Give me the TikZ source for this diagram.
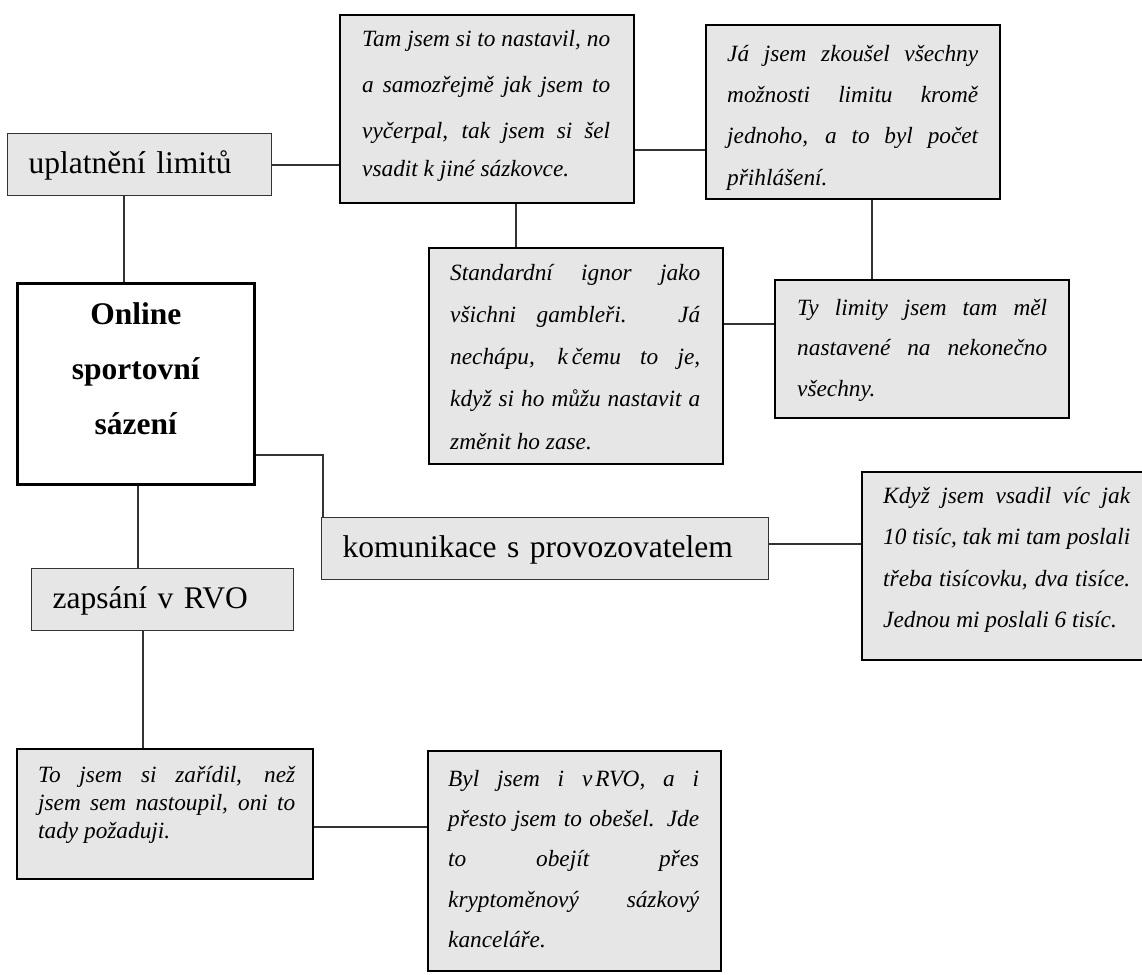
\documentclass[tikz,border=0pt]{standalone}
\usepackage{fontspec}
\setmainfont{Liberation Serif}
\definecolor{boxgray}{HTML}{E6E6E6}
\definecolor{linegray}{HTML}{333333}
% #1 W, #2 H, #3 left pad, #4 top space, #5 text width, #6 baselineskip, #7 lines
\newcommand\qt[7]{\parbox[c][#2][t]{#1}{\vspace*{#4}\hspace*{#3}\parbox[t]{#5}{\fontsize{23.3}{#6}\selectfont\itshape #7}}}
\newcommand\jl[1]{\makebox[\linewidth][s]{\rule{0pt}{20pt}#1}\par}
\newcommand\el[1]{\makebox[\linewidth][l]{\rule{0pt}{20pt}#1}\par}
\begin{document}
\begin{tikzpicture}[x=1pt,y=-1pt,
  labelbox/.style={draw=black!80, line width=1.4pt, fill=boxgray, anchor=north west,
    inner xsep=21pt, inner ysep=0pt, minimum height=62pt, align=left,
    font=\fontsize{31.5}{36}\selectfont, text height=24pt, text depth=6pt},
  quotebox/.style={draw=black, line width=2.4pt, fill=boxgray, anchor=north west, inner sep=0pt},
  topicbox/.style={draw=black, line width=2.6pt, fill=white, anchor=north west, inner sep=0pt},
  conn/.style={draw=linegray, line width=1.2pt}]

\useasboundingbox (0,0) rectangle (1142,974);

% label boxes
\node[labelbox, text width=222pt] (uplat) at (7,133) {uplatnění limitů};
\node[labelbox, text width=220pt] (zap) at (31,568) {zapsání v RVO};
\node[labelbox, text width=405pt] (kom) at (321,517) {komunikace s provozovatelem};

% central topic
\node[topicbox] (online) at (16,282) {\parbox[c][201pt][t]{237pt}{\vspace*{16pt}\centering
  \fontsize{31.5}{55}\selectfont\bfseries \rule{0pt}{25pt}Online\\sportovní\\sázení\par}};

% quote boxes
\node[quotebox] (tam) at (339,14) {\qt{294pt}{188pt}{22pt}{11pt}{248pt}{46pt}{%
  \jl{Tam jsem si to nastavil, no}
  \jl{a samozřejmě jak jsem to}
  \jl{vyčerpal, tak jsem si šel}
  \vspace{-8pt}\el{vsadit k jiné sázkovce.}}};

\node[quotebox] (ja) at (705,24) {\qt{294pt}{174pt}{21pt}{16pt}{251pt}{41.3pt}{%
  \jl{Já jsem zkoušel všechny}
  \jl{možnosti limitu kromě}
  \jl{jednoho, a to byl počet}
  \el{přihlášení.}}};

\node[quotebox] (std) at (428,247) {\qt{294pt}{216pt}{21pt}{12pt}{250pt}{42.2pt}{%
  \jl{Standardní ignor jako}
  \jl{všichni gambleři. Já}
  \jl{nechápu, k\kern4pt čemu to je,}
  \jl{když si ho můžu nastavit a}
  \el{změnit ho zase.}}};

\node[quotebox] (ty) at (774,279) {\qt{294pt}{138pt}{22pt}{15pt}{250pt}{40.5pt}{%
  \jl{Ty limity jsem tam měl}
  \jl{nastavené na nekonečno}
  \el{všechny.}}};

\node[quotebox] (kdyz) at (861,471) {\qt{294pt}{188pt}{21pt}{11pt}{247pt}{41.5pt}{%
  \jl{Když jsem vsadil víc jak}
  \jl{10 tisíc, tak mi tam poslali}
  \jl{třeba tisícovku, dva tisíce.}
  \el{Jednou mi poslali 6 tisíc.}}};

\node[quotebox] (to) at (16,748) {\qt{296pt}{130pt}{21pt}{13pt}{257pt}{28pt}{%
  \jl{To jsem si zařídil, než}
  \jl{jsem sem nastoupil, oni to}
  \el{tady požaduji.}}};

\node[quotebox] (byl) at (427,750) {\qt{293pt}{220pt}{20pt}{15pt}{251pt}{40.3pt}{%
  \jl{Byl jsem i v\kern3pt RVO, a i}
  \jl{přesto jsem to obešel. Jde}
  \jl{to obejít přes}
  \jl{kryptoměnový sázkový}
  \el{kanceláře.}}};

% connectors
\draw[conn] ([yshift=-32pt]uplat.north east) -- ([yshift=-151pt]tam.north west);
\draw[conn] ([yshift=-136pt]tam.north east) -- ([yshift=-126pt]ja.north west);
\draw[conn] ([xshift=177pt]tam.south west) -- ([xshift=88pt]std.north west);
\draw[conn] ([xshift=167pt]ja.south west) -- ([xshift=98pt]ty.north west);
\draw[conn] ([yshift=-77pt]std.north east) -- ([yshift=-45pt]ty.north west);
\draw[conn] ([xshift=117pt]uplat.south west) -- ([xshift=108pt]online.north west);
\draw[conn] ([yshift=-173pt]online.north east) -| ([xshift=2pt]kom.north west);
\draw[conn] ([xshift=122pt]online.south west) -- ([xshift=107pt]zap.north west);
\draw[conn] ([yshift=-27pt]kom.north east) -- ([yshift=-73pt]kdyz.north west);
\draw[conn] ([xshift=112pt]zap.south west) -- ([xshift=127pt]to.north west);
\draw[conn] ([yshift=-79pt]to.north east) -- ([yshift=-77pt]byl.north west);
\end{tikzpicture}
\end{document}
